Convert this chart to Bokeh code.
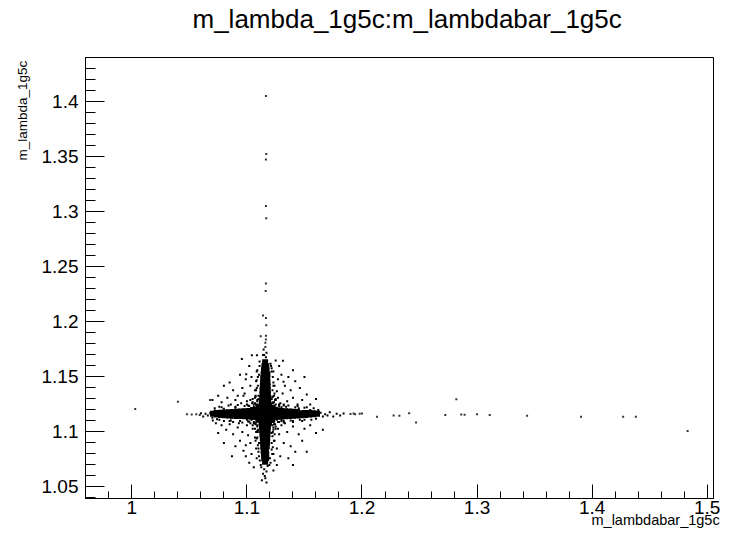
from bokeh.plotting import figure
from bokeh.models import Range1d, SingleIntervalTicker, CustomJSTickFormatter, Title
from bokeh.embed import file_html
from bokeh.resources import INLINE

# ---------------- texts ----------------
TITLE = "m_lambda_1g5c:m_lambdabar_1g5c"
X_TITLE = "m_lambdabar_1g5c"
Y_TITLE = "m_lambda_1g5c"

# axis limits and tick spacing
x_limits = (0.9597, 1.5055)
y_limits = (1.0395, 1.4404)
x_tick_step = 0.1
y_tick_step = 0.05

# ---------------- data (x = m_lambdabar_1g5c, y = m_lambda_1g5c) ----------------
# dense core of the cross: vertical arm and central blob
core_vertical = [
    (1.1158, 1.1633),
    (1.1152, 1.1597), (1.1168, 1.1597),
    (1.1148, 1.1560), (1.1170, 1.1560),
    (1.1145, 1.1524), (1.1165, 1.1524), (1.1178, 1.1524),
    (1.1142, 1.1488), (1.1162, 1.1488), (1.1176, 1.1488),
    (1.1140, 1.1451), (1.1160, 1.1451), (1.1178, 1.1451),
    (1.1138, 1.1415), (1.1158, 1.1415), (1.1180, 1.1415),
    (1.1136, 1.1378), (1.1157, 1.1378), (1.1180, 1.1378),
    (1.1135, 1.1342), (1.1156, 1.1342), (1.1182, 1.1342),
    (1.1133, 1.1306), (1.1158, 1.1306), (1.1184, 1.1306),
    (1.1130, 1.1269), (1.1155, 1.1269), (1.1185, 1.1269),
    (1.1128, 1.1233), (1.1150, 1.1233), (1.1172, 1.1233), (1.1192, 1.1233),
    (1.1105, 1.1215), (1.1210, 1.1215), (1.1100, 1.1165), (1.1215, 1.1168),
    (1.1105, 1.1115), (1.1210, 1.1110),
    (1.1100, 1.1220), (1.1220, 1.1220), (1.1100, 1.1110), (1.1220, 1.1110),
    (1.1075, 1.1190), (1.1245, 1.1190), (1.1075, 1.1140), (1.1245, 1.1140),
    (1.1130, 1.1245), (1.1190, 1.1245), (1.1130, 1.1085), (1.1190, 1.1085),
    (1.1128, 1.1087), (1.1152, 1.1087), (1.1175, 1.1087), (1.1192, 1.1087),
    (1.1130, 1.1051), (1.1155, 1.1051), (1.1182, 1.1051),
    (1.1133, 1.1014), (1.1157, 1.1014), (1.1180, 1.1014),
    (1.1135, 1.0978), (1.1158, 1.0978), (1.1178, 1.0978),
    (1.1138, 1.0942), (1.1160, 1.0942), (1.1176, 1.0942),
    (1.1140, 1.0905), (1.1160, 1.0905), (1.1175, 1.0905),
    (1.1142, 1.0869), (1.1162, 1.0869), (1.1172, 1.0869),
    (1.1145, 1.0832), (1.1165, 1.0832),
    (1.1148, 1.0796), (1.1168, 1.0796),
    (1.1150, 1.0760), (1.1166, 1.0760),
    (1.1158, 1.0730),
]

# dense core of the cross: horizontal arm
core_horizontal = [
    (1.0705, 1.1165),
    (1.0739, 1.1158), (1.0739, 1.1172),
    (1.0774, 1.1155), (1.0774, 1.1175),
    (1.0809, 1.1152), (1.0809, 1.1176),
    (1.0844, 1.1150), (1.0844, 1.1168), (1.0844, 1.1180),
    (1.0879, 1.1148), (1.0879, 1.1166), (1.0879, 1.1182),
    (1.0913, 1.1146), (1.0913, 1.1166), (1.0913, 1.1184),
    (1.0948, 1.1144), (1.0948, 1.1165), (1.0948, 1.1186),
    (1.0983, 1.1142), (1.0983, 1.1164), (1.0983, 1.1188),
    (1.1018, 1.1140), (1.1018, 1.1165), (1.1018, 1.1190),
    (1.1053, 1.1138), (1.1053, 1.1162), (1.1053, 1.1186), (1.1053, 1.1200),
    (1.1087, 1.1135), (1.1087, 1.1158), (1.1087, 1.1180), (1.1087, 1.1202),
    (1.1122, 1.1132), (1.1122, 1.1155), (1.1122, 1.1178), (1.1122, 1.1200),
    (1.1157, 1.1130), (1.1157, 1.1155), (1.1157, 1.1178), (1.1157, 1.1200),
    (1.1192, 1.1132), (1.1192, 1.1155), (1.1192, 1.1178), (1.1192, 1.1200),
    (1.1227, 1.1135), (1.1227, 1.1160), (1.1227, 1.1184), (1.1227, 1.1200),
    (1.1261, 1.1138), (1.1261, 1.1164), (1.1261, 1.1188),
    (1.1296, 1.1140), (1.1296, 1.1165), (1.1296, 1.1190),
    (1.1331, 1.1142), (1.1331, 1.1166), (1.1331, 1.1188),
    (1.1366, 1.1145), (1.1366, 1.1167), (1.1366, 1.1186),
    (1.1401, 1.1148), (1.1401, 1.1168), (1.1401, 1.1184),
    (1.1435, 1.1150), (1.1435, 1.1168), (1.1435, 1.1182),
    (1.1470, 1.1152), (1.1470, 1.1170),
    (1.1505, 1.1155), (1.1505, 1.1172),
    (1.1540, 1.1158), (1.1540, 1.1172),
    (1.1575, 1.1160), (1.1575, 1.1170),
    (1.1609, 1.1165),
]

# fuzzy edges of the two arms
arm_fuzz = [
    (1.1090, 1.1560), (1.1225, 1.1500), (1.1085, 1.1470), (1.1230, 1.1420), (1.1080, 1.1380),
    (1.1240, 1.1350), (1.1075, 1.1320), (1.1245, 1.1290), (1.1070, 1.1260), (1.1250, 1.1250),
    (1.1095, 1.1420), (1.1222, 1.1380), (1.1100, 1.1300), (1.1220, 1.1320), (1.1092, 1.1250),
    (1.1228, 1.1270), (1.1105, 1.1520), (1.1215, 1.1580), (1.1110, 1.1640), (1.1210, 1.1600),
    (1.1090, 1.1060), (1.1230, 1.1040), (1.1080, 1.1000), (1.1240, 1.0980), (1.1085, 1.0940),
    (1.1235, 1.0920), (1.1095, 1.0880), (1.1225, 1.0860), (1.1100, 1.0820), (1.1220, 1.0800),
    (1.1075, 1.1080), (1.1245, 1.1070), (1.1098, 1.1020), (1.1222, 1.0960), (1.1105, 1.0900),
    (1.1215, 1.0840), (1.1112, 1.0740), (1.1205, 1.0720), (1.1125, 1.0680), (1.1195, 1.0700),
    (1.0760, 1.1230), (1.0800, 1.1100), (1.0840, 1.1240), (1.0880, 1.1090), (1.0920, 1.1245),
    (1.0960, 1.1085), (1.1000, 1.1250), (1.1030, 1.1080), (1.0780, 1.1225), (1.0860, 1.1105),
    (1.0900, 1.1230), (1.0940, 1.1100), (1.0980, 1.1235), (1.1010, 1.1095), (1.0720, 1.1215),
    (1.0740, 1.1115), (1.1280, 1.1245), (1.1320, 1.1085), (1.1360, 1.1240), (1.1400, 1.1090),
    (1.1440, 1.1235), (1.1480, 1.1100), (1.1520, 1.1225), (1.1560, 1.1110), (1.1300, 1.1100),
    (1.1340, 1.1230), (1.1380, 1.1105), (1.1420, 1.1225), (1.1460, 1.1110), (1.1500, 1.1220),
    (1.1580, 1.1215), (1.1620, 1.1200),
]

# scattered points around the core
halo_near = [
    (1.1080, 1.1250), (1.1060, 1.1230), (1.1040, 1.1215), (1.1090, 1.1290), (1.1070, 1.1310),
    (1.1100, 1.1330), (1.1050, 1.1270), (1.1020, 1.1235), (1.1085, 1.1200), (1.1030, 1.1290),
    (1.1240, 1.1235), (1.1260, 1.1220), (1.1225, 1.1260), (1.1280, 1.1250), (1.1250, 1.1290),
    (1.1215, 1.1300), (1.1300, 1.1225), (1.1235, 1.1330), (1.1270, 1.1310), (1.1320, 1.1240),
    (1.1085, 1.1100), (1.1060, 1.1090), (1.1040, 1.1110), (1.1090, 1.1050), (1.1070, 1.1030),
    (1.1020, 1.1095), (1.1050, 1.1060), (1.1095, 1.1000), (1.1000, 1.1110), (1.1075, 1.1070),
    (1.1235, 1.1100), (1.1260, 1.1110), (1.1220, 1.1060), (1.1280, 1.1090), (1.1250, 1.1050),
    (1.1300, 1.1115), (1.1230, 1.1020), (1.1320, 1.1100), (1.1270, 1.1030), (1.1215, 1.0990),
]

halo_upper_left = [
    (1.1050, 1.1300), (1.1000, 1.1280), (1.0980, 1.1350), (1.1070, 1.1380), (1.1030, 1.1420),
    (1.0950, 1.1260), (1.0900, 1.1290), (1.0860, 1.1250), (1.0920, 1.1330), (1.1080, 1.1460),
    (1.1060, 1.1250), (1.1010, 1.1240), (1.0960, 1.1400), (1.1040, 1.1500), (1.0880, 1.1380),
    (1.0830, 1.1310), (1.0780, 1.1270), (1.0990, 1.1480), (1.1085, 1.1550), (1.0940, 1.1520),
    (1.0750, 1.1330), (1.0700, 1.1290), (1.0850, 1.1450), (1.1020, 1.1600), (1.0956, 1.1663),
    (1.0800, 1.1420), (1.0970, 1.1330), (1.1075, 1.1330), (1.1045, 1.1260), (1.1090, 1.1280),
    (1.1043, 1.1698), (1.1087, 1.1698), (1.0994, 1.1525),
]

halo_upper_right = [
    (1.1250, 1.1300), (1.1290, 1.1260), (1.1310, 1.1350), (1.1240, 1.1420), (1.1270, 1.1480),
    (1.1350, 1.1280), (1.1400, 1.1310), (1.1330, 1.1420), (1.1440, 1.1250), (1.1230, 1.1550),
    (1.1280, 1.1600), (1.1380, 1.1380), (1.1480, 1.1290), (1.1520, 1.1340), (1.1300, 1.1520),
    (1.1420, 1.1460), (1.1550, 1.1250), (1.1235, 1.1270), (1.1260, 1.1370), (1.1360, 1.1500),
    (1.1600, 1.1300), (1.1250, 1.1650), (1.1320, 1.1250), (1.1460, 1.1400), (1.1225, 1.1320),
    (1.1280, 1.1230), (1.1400, 1.1560), (1.1500, 1.1500), (1.1313, 1.1648), (1.1318, 1.1457),
]

halo_lower_left = [
    (1.1050, 1.1030), (1.1000, 1.1060), (1.0960, 1.1000), (1.1070, 1.0950), (1.1030, 1.0900),
    (1.0920, 1.1040), (1.0880, 1.0980), (1.0850, 1.1070), (1.0990, 1.0880), (1.1080, 1.0850),
    (1.1060, 1.1080), (1.1010, 1.0970), (1.0940, 1.0920), (1.0820, 1.1020), (1.0780, 1.1060),
    (1.1040, 1.0800), (1.0970, 1.0830), (1.0900, 1.0870), (1.1085, 1.0760), (1.0750, 1.0990),
    (1.0870, 1.0780), (1.1020, 1.0720), (1.1090, 1.1010), (1.1075, 1.0920), (1.0930, 1.1080),
    (1.0800, 1.0900), (1.1060, 1.0680), (1.0990, 1.0780), (1.0703, 1.1103), (1.0730, 1.1080),
]

halo_lower_right = [
    (1.1250, 1.1030), (1.1300, 1.1060), (1.1280, 1.0980), (1.1240, 1.0920), (1.1350, 1.1000),
    (1.1400, 1.1050), (1.1320, 1.0900), (1.1260, 1.0850), (1.1450, 1.0980), (1.1230, 1.0800),
    (1.1380, 1.0870), (1.1500, 1.1030), (1.1290, 1.0780), (1.1420, 1.0820), (1.1550, 1.1060),
    (1.1240, 1.0740), (1.1360, 1.0760), (1.1480, 1.0920), (1.1600, 1.0990), (1.1235, 1.1070),
    (1.1270, 1.1090), (1.1330, 1.1080), (1.1260, 1.0700), (1.1400, 1.0700), (1.1520, 1.0820),
    (1.1660, 1.1020), (1.1230, 1.0650),
]

halo_arm_ends = [
    (1.1085, 1.1400), (1.1230, 1.1450), (1.1095, 1.1500), (1.1215, 1.1550), (1.1110, 1.1600),
    (1.1205, 1.1620), (1.1100, 1.0850), (1.1215, 1.0900), (1.1090, 1.0950), (1.1225, 1.1000),
    (1.1105, 1.0780), (1.1200, 1.0760), (1.1120, 1.0700), (1.1180, 1.0690), (1.1150, 1.0660),
    (1.1170, 1.0640), (1.1140, 1.0620), (1.1160, 1.0580), (1.1130, 1.0560), (1.1170, 1.0540),
    (1.1155, 1.0600), (1.1165, 1.1680), (1.1150, 1.1700), (1.1170, 1.1720), (1.1145, 1.1750),
    (1.1140, 1.1700),
    (1.0700, 1.1130), (1.0720, 1.1195), (1.0760, 1.1110), (1.0800, 1.1210), (1.0850, 1.1100),
    (1.0900, 1.1220), (1.1400, 1.1100), (1.1450, 1.1215), (1.1500, 1.1110), (1.1550, 1.1200),
    (1.1600, 1.1120), (1.1640, 1.1175), (1.1660, 1.1140), (1.1680, 1.1160), (1.1700, 1.1150),
    (1.1720, 1.1180), (1.1750, 1.1140), (1.1780, 1.1165), (1.1810, 1.1150), (1.1840, 1.1167),
    (1.0680, 1.1170), (1.0660, 1.1150), (1.0640, 1.1165), (1.0620, 1.1140), (1.0600, 1.1170),
]

# isolated entries far from the core
tail_vertical = [
    (1.1165, 1.4055), (1.1168, 1.3527), (1.1165, 1.3476), (1.1165, 1.3055), (1.1168, 1.2943),
    (1.1165, 1.2349), (1.1163, 1.2282), (1.1140, 1.2058), (1.1165, 1.2036), (1.1168, 1.1970),
    (1.1120, 1.1870), (1.1165, 1.1875), (1.1165, 1.1840), (1.1160, 1.1810), (1.1160, 1.1773),
]

tail_horizontal = [
    (1.0029, 1.1209), (1.0400, 1.1275), (1.0480, 1.1160), (1.0520, 1.1158), (1.0560, 1.1162),
    (1.0590, 1.1155), (1.0680, 1.1291), (1.1927, 1.1167), (1.2000, 1.1167), (1.1900, 1.1164),
    (1.1940, 1.1160), (1.1980, 1.1166), (1.2130, 1.1139), (1.2275, 1.1150), (1.2325, 1.1148),
    (1.2410, 1.1170), (1.2470, 1.1085), (1.2724, 1.1155), (1.2820, 1.1297), (1.2863, 1.1158),
    (1.2892, 1.1156), (1.3000, 1.1160), (1.3110, 1.1155), (1.3435, 1.1147), (1.3904, 1.1139),
    (1.4270, 1.1139), (1.4380, 1.1139), (1.4830, 1.1009),
]

# ---------------- figure ----------------
FONT = "Liberation Sans"

p = figure(
    width=720, height=529,
    x_range=Range1d(*x_limits), y_range=Range1d(*y_limits),
    min_border_left=85, min_border_right=7, min_border_top=57, min_border_bottom=31,
    output_backend="svg", toolbar_location=None, title=None,
    background_fill_color="white", border_fill_color="white",
)
p.grid.visible = False
p.outline_line_color = "black"
p.outline_line_width = 1
p.outline_line_alpha = 1.0


def xs(points):
    return [pt[0] for pt in points]


def ys(points):
    return [pt[1] for pt in points]


core = core_vertical + core_horizontal
p.scatter(xs(core), ys(core), marker="square", size=6,
          fill_color="black", line_color=None)

halo = (arm_fuzz + halo_near + halo_upper_left + halo_upper_right
        + halo_lower_left + halo_lower_right + halo_arm_ends)
p.scatter(xs(halo), ys(halo), marker="square", size=2,
          fill_color="black", line_color=None)

tails = tail_vertical + tail_horizontal
p.scatter(xs(tails), ys(tails), marker="square", size=2,
          fill_color="black", line_color=None, fill_alpha=0.8)

fmt = CustomJSTickFormatter(code="return String(Math.round(tick*1000)/1000);")

p.xaxis.ticker = SingleIntervalTicker(interval=x_tick_step, num_minor_ticks=5)
p.yaxis.ticker = SingleIntervalTicker(interval=y_tick_step, num_minor_ticks=5)
for ax in (p.xaxis, p.yaxis):
    ax.formatter = fmt
    ax.axis_line_color = "black"
    ax.major_tick_line_color = "black"
    ax.minor_tick_line_color = "black"
    ax.major_tick_out = 0
    ax.minor_tick_out = 0
    ax.major_label_text_font = FONT
    ax.major_label_text_font_size = "19px"
    ax.major_label_text_color = "black"

p.xaxis.major_tick_in = 14
p.xaxis.minor_tick_in = 7
p.xaxis.major_label_standoff = 2
p.yaxis.major_tick_in = 19
p.yaxis.minor_tick_in = 10
p.yaxis.major_label_standoff = 7

# titles in the side panels: an empty spacer next to the frame, the title above it
spacer = Title(text=" ", standoff=6, text_font=FONT, text_font_size="12px")
p.add_layout(spacer, "above")
main_title = Title(text=TITLE, align="left", offset=107, standoff=0,
                   vertical_align="top",
                   text_font=FONT, text_font_size="26px", text_font_style="normal",
                   text_color="black")
p.add_layout(main_title, "above")

x_title = Title(text=X_TITLE, align="left", offset=506, standoff=0,
                text_font=FONT, text_font_size="14.5px", text_font_style="normal",
                text_color="black")
try:
    x_title.standoff = -14
except Exception:
    pass
p.add_layout(x_title, "below")

y_title = Title(text=Y_TITLE, align="left", offset=338, standoff=18,
                text_font=FONT, text_font_size="13.5px", text_font_style="normal",
                text_color="black")
p.add_layout(y_title, "left")

open("out.html", "w").write(file_html(p, INLINE))
